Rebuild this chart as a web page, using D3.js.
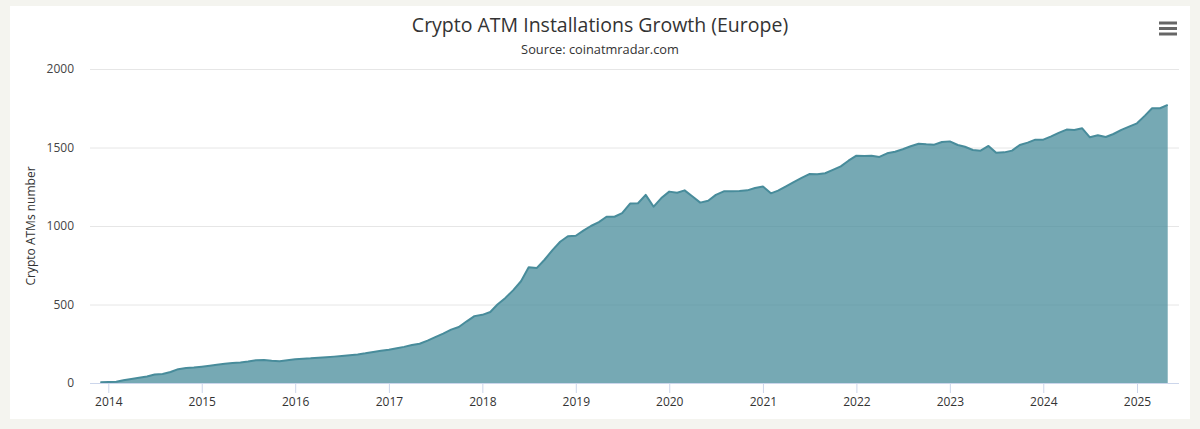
<!DOCTYPE html>
<html>
<head>
<meta charset="utf-8">
<script src="https://cdn.jsdelivr.net/npm/d3@7"></script>
<style>
  html, body { margin: 0; padding: 0; background: #f4f4ef; }
  svg { display: block; }
</style>
</head>
<body>
<svg id="chart" width="1200" height="429"></svg>
<script>
const startMonth = [2013, 11]; // Dec 2013 (year, zero-based month)
const atmCounts = [
  5,
  6, 8, 17, 26, 34, 42, 54, 57, 70, 88, 96, 99,
  104, 110, 116, 122, 127, 131, 137, 145, 146, 141, 139, 145,
  152, 155, 157, 161, 164, 168, 172, 177, 182, 189, 198, 205,
  212, 221, 230, 242, 250, 270, 292, 315, 340, 357, 393, 426,
  434, 452, 500, 542, 590, 648, 737, 732, 785, 845, 900, 935,
  938, 972, 1000, 1025, 1059, 1059, 1082, 1143, 1145, 1198, 1123, 1178,
  1219, 1212, 1227, 1188, 1149, 1161, 1198, 1221, 1221, 1223, 1227, 1242,
  1251, 1208, 1225, 1253, 1280, 1306, 1331, 1329, 1336, 1357, 1380, 1416,
  1448, 1446, 1448, 1440, 1463, 1473, 1489, 1508, 1524, 1520, 1518, 1535,
  1539, 1516, 1505, 1484, 1480, 1510, 1467, 1469, 1480, 1516, 1531, 1550,
  1550, 1571, 1593, 1614, 1612, 1622, 1565, 1578, 1567, 1586, 1612, 1633,
  1654, 1703, 1750, 1750, 1771
];
const yTicks = [0, 500, 1000, 1500, 2000];
const xTickYears = [2014, 2015, 2016, 2017, 2018, 2019, 2020, 2021, 2022, 2023, 2024, 2025];
const titleText = "Crypto ATM Installations Growth (Europe)";
const subtitleText = "Source: coinatmradar.com";
const yAxisTitle = "Crypto ATMs number";

const data = atmCounts.map((v, i) => ({
  date: new Date(Date.UTC(startMonth[0], startMonth[1] + i, 1)),
  value: v
}));

const svg = d3.select("#chart");
const font = "'Open Sans', 'DejaVu Sans', sans-serif";
const plotLeft = 90, plotRight = 1179, plotTop = 69, plotBottom = 383;

// card
svg.append("rect").attr("x", 10).attr("y", 6).attr("width", 1180).attr("height", 413).attr("fill", "#ffffff");

const x = d3.scaleUtc()
  .domain([new Date(Date.UTC(2014, 0, 1)), new Date(Date.UTC(2025, 0, 1))])
  .range([108.3, 1137]);
const y = d3.scaleLinear().domain([0, 2000]).range([plotBottom, plotTop]);

// title
svg.append("text").attr("x", 600).attr("y", 32).attr("text-anchor", "middle")
  .attr("font-family", font).attr("font-size", 19.5).attr("fill", "#333333").text(titleText);
svg.append("text").attr("x", 600).attr("y", 54).attr("text-anchor", "middle")
  .attr("font-family", font).attr("font-size", 12.8).attr("fill", "#333333").text(subtitleText);

// menu icon
const menu = svg.append("g").attr("stroke", "#666666").attr("stroke-width", 3).attr("stroke-linecap", "butt");
[23, 28.5, 34].forEach(yy => menu.append("line").attr("x1", 1159).attr("x2", 1177).attr("y1", yy).attr("y2", yy));

// grid lines
const yAxis = d3.axisLeft(y).tickValues(yTicks).tickSize(-(plotRight - plotLeft)).tickPadding(16).tickFormat(d3.format("d"));
const gy = svg.append("g").attr("transform", `translate(${plotLeft},0)`).call(yAxis);
gy.select(".domain").remove();
gy.selectAll(".tick line").attr("stroke", "#e6e6e6").attr("stroke-width", 1);
gy.selectAll(".tick text").attr("font-family", font).attr("font-size", 12).attr("fill", "#444444");

// y axis title
svg.append("text").attr("transform", `translate(35,${(plotTop + plotBottom) / 2}) rotate(-90)`)
  .attr("text-anchor", "middle").attr("font-family", font).attr("font-size", 12).attr("fill", "#333333").text(yAxisTitle);

// area
const area = d3.area().x(d => x(d.date)).y0(y(0)).y1(d => y(d.value));
const line = d3.line().x(d => x(d.date)).y(d => y(d.value));
svg.append("path").datum(data).attr("d", area).attr("fill", "#488c9b").attr("fill-opacity", 0.75);
svg.append("path").datum(data).attr("d", line).attr("fill", "none").attr("stroke", "#488c9b").attr("stroke-width", 2).attr("stroke-linejoin", "round");

// x axis
const xAxis = d3.axisBottom(x)
  .tickValues(xTickYears.map(yr => new Date(Date.UTC(yr, 0, 1))))
  .tickFormat(d3.utcFormat("%Y")).tickSize(10).tickPadding(4);
const gx = svg.append("g").attr("transform", `translate(0,${plotBottom})`).call(xAxis);
gx.select(".domain").remove();
gx.append("line").attr("x1", plotLeft).attr("x2", plotRight).attr("y1", 0.5).attr("y2", 0.5).attr("stroke", "#ccd6eb");
gx.selectAll(".tick line").attr("stroke", "#ccd6eb");
gx.selectAll(".tick text").attr("font-family", font).attr("font-size", 12).attr("fill", "#333333");
</script>
</body>
</html>
